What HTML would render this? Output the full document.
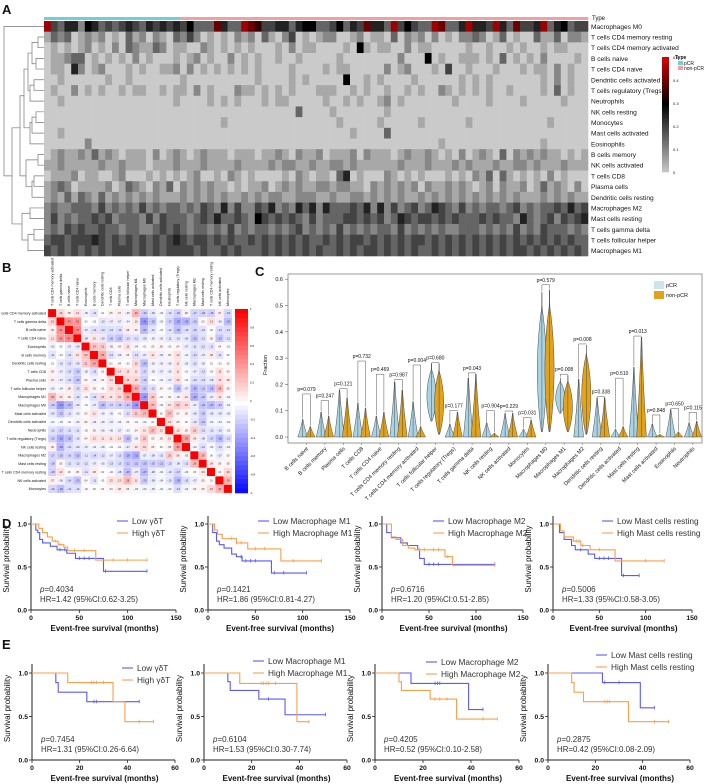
<!DOCTYPE html>
<html><head><meta charset="utf-8"><style>
html,body{margin:0;padding:0;background:#fff;}
svg{display:block;font-family:"Liberation Sans",Arial,sans-serif;}
</style></head><body>
<svg id="fig" width="708" height="784" viewBox="0 0 708 784" xmlns="http://www.w3.org/2000/svg"></svg>
<script>
// ---------- Panel A data ----------
const hmRows=["Macrophages M0","T cells CD4 memory resting","T cells CD4 memory activated","B cells naive","T cells CD4 naive","Dendritic cells activated","T cells regulatory (Tregs)","Neutrophils","NK cells resting","Monocytes","Mast cells activated","Eosinophils","B cells memory","NK cells activated","T cells CD8","Plasma cells","Dendritic cells resting","Macrophages M2","Mast cells resting","T cells gamma delta","T cells follicular helper","Macrophages M1"];
const hmValues=[
"94355265343454354545463338533987445535663346354855394643398335955495384459356344",
"13230121201031202103242010102120310240101220012011030212020102232013010031130221",
"01010120102032113201100210101010001020110000106101100201100000100100101001011000",
"01123301010102010001012010020101001001000001000000002000601001110103010102000010",
"01105201200010100112020101010101000010000101100000201200010400100010001011020100",
"00100000010010000000100000000001000010100000600101000010000001010100000001020100",
"01002010100101100101102010002110101010001110010100100101002101010100100001030100",
"00100000000000000001000010101000101100000100101001201000000010000100001000001000",
"00000000000000000000000000000000000003000010000000100000000000000000000000000000",
"00000000000000000000000000100000000000000001000001000001000000100000000000100000",
"00100000000000000000000000000000000000000000010000300000000000000000000000000000",
"00000020000000000000000000000000000000000000000000000000001000000000000001000000",
"01211213121011102012101211101110112102112011120211101211210102012103021212110101",
"11211111211211101112111211112111121221121122121111112111211121211121122121112111",
"01112011001200010101012001021010000102101103501000210101000101021303101010201000",
"12320111120132102130212121101011201212112212211021212120211212101202112013121020",
"12131321312121212111212121211212122112221121122121212112121212121212121112121211",
"23223332423232423233232432524224352325352533343525242342354324232332342323343534",
"24232334342333242433323435334326434343242333443434235434434343334343325323424345",
"23243433433233223434323323242323323234232324232323324232323223332323242324333232",
"34434445434343434345434434343343434343433434344343434344343434343434343434343433",
"43434343434443434344443433434333434343434334343443434343343434343434344343434343"];
const hmPcrCount=20;
const hmScaleTicks=[0,0.1,0.2,0.3,0.4,0.5];
// ---------- Panel B data ----------
const corrLabels=["T cells CD4 memory activated","T cells gamma delta","B cells naive","T cells CD4 naive","Eosinophils","B cells memory","Dendritic cells resting","T cells CD8","Plasma cells","T cells follicular helper","Macrophages M1","Macrophages M0","Mast cells activated","Dendritic cells activated","Neutrophils","T cells regulatory (Tregs)","NK cells resting","Macrophages M2","Mast cells resting","T cells CD4 memory resting","NK cells activated","Monocytes"];
const corrLower=[[],[0.16],[0.05,0.43],[0.12,0.42,0.47],[-0.05,0,-0.07,-0.08],[-0.11,-0.01,-0.12,0.1,0.23],[0.01,-0.1,-0.13,-0.09,0.21,0.34],[0.05,-0.07,-0.13,-0.2,-0.05,-0.13,0.02],[0.07,-0.07,-0.13,-0.23,0.04,-0.06,0.04,0.14],[-0.05,-0.04,0.08,-0.13,0.12,0.05,-0.01,0.13,0.16],[0.29,0.1,0.06,-0.12,-0.04,-0.13,0.15,0.11,0.16,0.34],[-0.19,-0.41,-0.27,-0.09,-0.01,-0.07,-0.26,-0.17,-0.19,-0.21,-0.4],[-0.09,-0.22,-0.11,-0.05,0.03,0.11,-0.05,-0.05,-0.01,-0.12,0.21,0.27],[-0.03,-0.03,-0.01,-0.05,0.05,-0.06,-0.05,-0.07,-0.04,0.04,-0.01,-0.03,0.01],[-0.12,-0.17,-0.12,-0.11,-0.02,0.05,-0.06,-0.06,-0.07,-0.03,0.04,0.1,0.27,0.13],[-0.18,-0.33,-0.25,-0.1,0.04,0.13,0.11,0.11,0.13,-0.25,-0.05,0.22,0.03,0.05,0.1],[0.06,-0.3,-0.13,-0.09,-0.07,-0.04,-0.05,-0.01,-0.01,-0.07,0.1,0.15,0.05,0,0.05,0.39],[-0.17,-0.2,-0.16,-0.23,-0.11,-0.14,-0.12,-0.07,-0.13,-0.28,-0.32,-0.07,-0.08,-0.1,0.2,0.08,-0.03],[-0.18,0.03,-0.12,-0.12,-0.12,-0.07,-0.05,-0.13,-0.13,-0.21,-0.22,-0.23,-0.2,-0.21,-0.13,-0.08,-0.12,0.28],[-0.18,0.13,0,0.05,-0.11,0.08,0.01,-0.02,-0.08,-0.25,-0.07,-0.27,-0.08,-0.04,-0.1,-0.17,-0.03,0,0.09],[0.07,-0.06,-0.14,-0.23,0.04,-0.11,-0.01,0.13,0.13,0.28,0.11,-0.2,-0.08,-0.04,-0.1,-0.28,-0.13,-0.07,0.05,0.01],[-0.16,-0.26,-0.13,-0.12,-0.02,0,0.02,0.03,0.08,0.05,-0.03,-0.04,-0.05,-0.02,-0.03,-0.13,-0.04,0.03,0.05,0.16,0.3]];
const corrTicks=[1,0.8,0.6,0.4,0.2,0,-0.2,-0.4,-0.6,-0.8,-1];
// ---------- Panel C data ----------
const vCats=["B cells naive","B cells memory","Plasma cells","T cells CD8","T cells CD4 naive","T cells CD4 memory resting","T cells CD4 memory activated","T cells follicular helper","T cells regulatory (Tregs)","T cells gamma delta","NK cells resting","NK cells activated","Monocytes","Macrophages M0","Macrophages M1","Macrophages M2","Dendritic cells resting","Dendritic cells activated","Mast cells resting","Mast cells activated","Eosinophils","Neutrophils"];
const vPcrMax=[0.067,0.095,0.18,0.13,0.08,0.21,0.135,0.28,0.05,0.225,0.055,0.09,0.03,0.55,0.225,0.22,0.15,0.03,0.265,0.05,0.105,0.055];
const vNonMax=[0.04,0.08,0.15,0.11,0.095,0.18,0.04,0.28,0.095,0.24,0.015,0.09,0.065,0.56,0.235,0.35,0.15,0.04,0.38,0.01,0.02,0.06];
const vPcrMin=[0,0,0,0,0,0,0,0.06,0,0,0,0,0,0.02,0.09,0,0,0,0,0,0,0];
const vNonMin=[0,0,0,0,0,0,0,0.01,0,0,0,0,0,0.02,0.02,0.01,0,0,0,0,0,0];
const vBracket=[0.16,0.135,0.18,0.285,0.235,0.215,0.27,0.28,0.097,0.24,0.097,0.095,0.07,0.575,0.235,0.35,0.15,0.22,0.38,0.08,0.105,0.09];
const vP=["p=0.079","p=0.247","p=0.121","p=0.732","p=0.469","p=0.987","p=0.004","p=0.680","p=0.177","p=0.043","p=0.904","p=0.229","p=0.031","p=0.579","p=0.008","p=0.008","p=0.338","p=0.510","p=0.013","p=0.848","p=0.650","p=0.115"];
const vTicks=[0,0.1,0.2,0.3,0.4,0.5,0.6];
// ---------- Panels D/E data ----------
const kmNames=[["Low γδT","High γδT"],["Low Macrophage M1","High Macrophage M1"],["Low Macrophage M2","High Macrophage M2"],["Low Mast cells resting","High Mast cells resting"]];
const dLowT=[[5,7,9,12,20,27,37,46,75],[5,9,12,17,25,30,36,67],[5,10,20,27,38,40,45],[7,12,20,24,38,45,74]];
const dLowS=[[0.93,0.9,0.82,0.78,0.74,0.7,0.66,0.6,0.45],[0.9,0.8,0.76,0.72,0.65,0.62,0.57,0.43],[0.9,0.84,0.78,0.75,0.7,0.6,0.53],[0.9,0.82,0.75,0.7,0.65,0.6,0.4]];
const dLowEnd=[120,104,120,93];
const dLowCens=[[30,35,50,55,60,77,120],[35,40,45,50,70,80,104],[50,55,60,120],[30,50,55,60,76,93]];
const dHighT=[[8,12,17,22,28,34,38,67],[7,10,15,30,42,77],[10,15,22,28,35,67,75],[8,12,22,30,40,67]];
const dHighS=[[0.95,0.9,0.85,0.8,0.76,0.73,0.69,0.58],[0.93,0.88,0.83,0.78,0.71,0.57],[0.85,0.82,0.75,0.72,0.7,0.62,0.52],[0.92,0.85,0.8,0.75,0.7,0.57]];
const dHighEnd=[120,120,120,120];
const dHighCens=[[25,30,45,55,85,100,120],[25,30,35,50,60,90,120],[40,45,55,60,70,120],[25,28,32,50,100,120]];
const dP=["0.4034","0.1421","0.6716","0.5006"];
const dHR=["HR=1.42 (95%CI:0.62-3.25)","HR=1.86 (95%CI:0.81-4.27)","HR=1.20 (95%CI:0.51-2.85)","HR=1.33 (95%CI:0.58-3.05)"];
const eLowT=[[10,11,23],[10,11,23,34],[15,39],[23,39]];
const eLowS=[[0.89,0.78,0.67],[0.9,0.8,0.7,0.52],[0.88,0.58],[0.89,0.6]];
const eLowEnd=[45,51,45,45];
const eLowCens=[[26,27,45],[27,51],[25,26,27,45],[24,30,45]];
const eHighT=[[15,34,39],[15,39],[10,11,23,34],[10,11,15,34]];
const eHighS=[[0.89,0.67,0.44],[0.88,0.44],[0.9,0.8,0.7,0.47],[0.89,0.78,0.67,0.44]];
const eHighEnd=[51,44,51,51];
const eHighCens=[[25,26,27,30,45,51],[24,25,26,27,30,44],[25,27,30,45,51],[24,25,26,45,51]];
const eP=["0.7454","0.6104","0.4205","0.2875"];
const eHR=["HR=1.31 (95%CI:0.26-6.64)","HR=1.53 (95%CI:0.30-7.74)","HR=0.52 (95%CI:0.10-2.58)","HR=0.42 (95%CI:0.08-2.09)"];

const NS="http://www.w3.org/2000/svg";
const svg=document.getElementById('fig');
function mk(tag,attrs,name,parent){
  const el=document.createElementNS(NS,tag);
  for(const k in attrs) el.setAttribute(k,attrs[k]);
  
  
  (parent||svg).appendChild(el);
  return el;
}
function txt(x,y,s,size,name,extra){
  const a=Object.assign({x:x,y:y,'font-size':size,fill:'#111'},extra||{});
  const t=mk('text',a,name);
  t.textContent=s;
  return t;
}
function lerp(a,b,t){return a+(b-a)*t;}

[["A",2,14],["B",2,272],["C",255,276],["D",2,528],["E",2,649]].forEach(p=>txt(p[1],p[2],p[0],13,'panel-label-'+p[0].toLowerCase(),{'font-weight':'bold'}));

// ---------- Panel A ----------
const hx0=44,hx1=588,hy0=21,hy1=256;
const nCols=hmValues[0].length;
const cw=(hx1-hx0)/nCols, rh=(hy1-hy0)/hmRows.length;
function hmColor(v){
  if(v<=0.3){const t=v/0.3;const g=Math.round(lerp(202,0,t));return `rgb(${g},${g},${g})`;}
  const t=Math.min(1,(v-0.3)/0.2);return `rgb(${Math.round(lerp(0,215,t))},0,0)`;
}
for(let c=0;c<nCols;c++){
  mk('rect',{x:hx0+c*cw,y:17,width:cw+0.3,height:3,fill:c<hmPcrCount?'#6cd0dc':'#f0a0a0'},'type-bar-cell');
}
txt(592,20,"Type",6,'type-annotation-label');
for(let r=0;r<hmRows.length;r++){
  const s=hmValues[r].padEnd(nCols,'0');
  for(let c=0;c<nCols;c++){
    const v=parseInt(s[c])*0.05;
    mk('rect',{x:hx0+c*cw,y:hy0+r*rh,width:cw+0.3,height:rh+0.3,fill:hmColor(v)},'heatmap-cell');
  }
  txt(591,hy0+(r+0.5)*rh+2.5,hmRows[r],6.6,'heatmap-row-label');
}
const dg=mk('g',{stroke:'#777','stroke-width':0.7,fill:'none'},'row-dendrogram');
function ry(i){return hy0+(i+0.5)*rh;}
function br(x,ya,yb,xa,xb){mk('path',{d:`M${xa},${ya}H${x}V${yb}H${xb}`},'dendrogram-branch',dg);}
br(38,ry(1),ry(2),44,44);br(36,ry(3),ry(4),44,44);br(32,(ry(1)+ry(2))/2,(ry(3)+ry(4))/2,38,36);
br(34,ry(5),ry(6),44,44);br(30,(ry(5)+ry(6))/2,ry(7),34,44);br(28,(ry(1)+ry(4))/2,(ry(5)+ry(7))/2,32,30);
br(36,ry(8),ry(9),44,44);br(32,(ry(8)+ry(9))/2,ry(10),36,44);br(30,(ry(8)+ry(10))/2,ry(11),32,44);
br(24,(ry(2)+ry(6))/2,(ry(8)+ry(11))/2,28,30);
br(38,ry(12),ry(13),44,44);br(34,ry(14),ry(15),44,44);br(32,(ry(14)+ry(15))/2,ry(16),34,44);br(26,(ry(12)+ry(13))/2,(ry(14)+ry(16))/2,38,32);
br(20,(ry(4)+ry(9))/2,(ry(12)+ry(16))/2,24,26);
br(30,ry(17),ry(18),44,44);br(34,ry(19),ry(20),44,44);br(28,(ry(19)+ry(20))/2,ry(21),34,44);br(22,(ry(17)+ry(18))/2,(ry(19)+ry(21))/2,30,28);
br(12,(ry(7)+ry(12))/2,(ry(17)+ry(20))/2,20,22);
br(4,ry(0),(ry(9)+ry(19))/2,44,12);
const cbx=662,cby0=57,cby1=172;
for(let i=0;i<50;i++){const v=0.5-i*0.01;mk('rect',{x:cbx,y:cby0+i*(cby1-cby0)/50,width:7,height:(cby1-cby0)/50+0.3,fill:hmColor(v)},'heatmap-colorbar-segment');}
hmScaleTicks.forEach(t=>txt(673,cby1-(t/0.5)*(cby1-cby0)+2,String(t),4,'heatmap-colorbar-tick'));
txt(675,59,"Type",5,'heatmap-legend-title',{'font-weight':'bold'});
mk('rect',{x:678,y:61,width:5,height:4,fill:'#6cd0dc'},'legend-swatch-pcr');txt(684,65,"pCR",5,'legend-label-pcr');
mk('rect',{x:678,y:66,width:5,height:4,fill:'#f0a0a0'},'legend-swatch-non-pcr');txt(684,70,"non-pCR",5,'legend-label-non-pcr');

// ---------- Panel B ----------
const bx0=48,by0=309,bs=(232-48)/22;
function corrColor(v){
  const t=Math.min(1,Math.abs(v));
  if(v>=0){return `rgb(255,${Math.round(255*(1-t))},${Math.round(255*(1-t))})`;}
  return `rgb(${Math.round(255*(1-t))},${Math.round(255*(1-t))},255)`;
}
function corr(i,j){if(i===j)return 1;return i>j?corrLower[i][j]:corrLower[j][i];}
for(let i=0;i<22;i++){
  for(let j=0;j<22;j++){
    const v=corr(i,j);
    mk('rect',{x:bx0+j*bs,y:by0+i*bs,width:bs,height:bs,fill:corrColor(v),stroke:'#fff','stroke-width':0.2},'corr-cell');
    txt(bx0+j*bs+bs/2,by0+i*bs+bs/2+1,(v===1?"1":v.toFixed(2).replace("0.",".")),2.6,'corr-cell-value',{'text-anchor':'middle',fill:'#333'});
  }
  txt(bx0-2,by0+i*bs+bs/2+1.3,corrLabels[i],3.6,'corr-row-label',{'text-anchor':'end'});
  const cx=bx0+i*bs+bs/2+1.3;
  txt(cx,by0-3,corrLabels[i],3.6,'corr-col-label',{transform:`rotate(-90 ${cx} ${by0-3})`});
}
for(let i=0;i<40;i++){const v=1-i*0.05;mk('rect',{x:235,y:by0+i*(22*bs)/40,width:13,height:22*bs/40+0.3,fill:corrColor(v)},'corr-colorbar-segment');}
corrTicks.forEach(t=>txt(250,by0+(1-t)/2*22*bs+1,String(t),3,'corr-colorbar-tick'));

// ---------- Panel C ----------
const cx0=288,cx1=702,cyTop=274,cyBot=443;
const cy0=437, cyPer=263;
function vy(v){return cy0-v*cyPer;}
const catStep=18.4, cat0=306.5;
function vx(i){return cat0+i*catStep;}
mk('rect',{x:cx0,y:cyTop,width:cx1-cx0,height:cyBot-cyTop,fill:'none',stroke:'#999','stroke-width':1},'violin-plot-frame');
vTicks.forEach(t=>{mk('line',{x1:cx0-3,x2:cx0,y1:vy(t),y2:vy(t),stroke:'#666','stroke-width':0.6},'y-tick');txt(cx0-5,vy(t)+2,t.toFixed(1),5.5,'y-tick-label',{'text-anchor':'end'});});
txt(267,365,"Fraction",5.5,'y-axis-title',{transform:'rotate(-90 267 365)','text-anchor':'middle'});
function violin(cx,mn,mx,fill,name){
  const n=24,W=4.6,pts=[],ptsL=[];
  const bulb=mn>0.005;
  for(let k=0;k<=n;k++){
    const t=k/n, v=lerp(mn,mx,t);
    let w=bulb?W*Math.pow(Math.sin(Math.PI*Math.min(1,t*1.1+0.02)),0.8):W*Math.pow(1-t,1.3)+0.3;
    pts.push([cx+w,vy(v)]);ptsL.push([cx-w,vy(v)]);
  }
  const all=pts.concat(ptsL.reverse());
  mk('path',{d:'M'+all.map(p=>p[0].toFixed(2)+','+p[1].toFixed(2)).join('L')+'Z',fill:fill,stroke:'#4a4a4a','stroke-width':0.5},name);
  mk('line',{x1:cx,x2:cx,y1:vy(mn),y2:vy(mx),stroke:'#333','stroke-width':0.4},name+'-whisker');
}
for(let i=0;i<vCats.length;i++){
  const xp=vx(i)-3.8, xn=vx(i)+3.8;
  violin(xp,vPcrMin[i],vPcrMax[i],'#a9d2e3','violin-pcr');
  violin(xn,vNonMin[i],vNonMax[i],'#e2a31c','violin-non-pcr');
  const yb=vy(vBracket[i])-1;
  mk('path',{d:`M${xp},${vy(vPcrMax[i])-1}V${yb}H${xn}V${vy(vNonMax[i])-1}`,fill:'none',stroke:'#555','stroke-width':0.5},'p-value-bracket');
  txt(vx(i),yb-3,vP[i],5,'p-value-label',{'text-anchor':'middle'});
  mk('line',{x1:vx(i),x2:vx(i),y1:cyBot,y2:cyBot+2,stroke:'#666','stroke-width':0.5},'x-tick');
  txt(vx(i)+2,cyBot+6,vCats[i],5.5,'x-tick-label',{'text-anchor':'end',transform:`rotate(-45 ${vx(i)+2} ${cyBot+6})`});
}
mk('rect',{x:654,y:281,width:10,height:8,fill:'#cde4ee'},'legend-swatch-pcr');txt(666,287,"pCR",5.5,'legend-label-pcr');
mk('rect',{x:654,y:291,width:10,height:8,fill:'#e2a31c'},'legend-swatch-non-pcr');txt(666,297,"non-pCR",5.5,'legend-label-non-pcr');

// ---------- Panels D & E ----------
const BLUE='#5a5af5',ORANGE='#f5a04a';
function survAt(T,S,t){let s=1;for(let k=0;k<T.length;k++){if(T[k]<=t)s=S[k];}return s;}
function kmPlot(o){
  const X=v=>o.x0+(v/o.xmax)*(o.x1-o.x0), Y=s=>o.y0-s*(o.y0-o.y1);
  mk('path',{d:`M${o.x0},${o.yTop}V${o.y0}H${o.x1}`,fill:'none',stroke:'#222','stroke-width':1},'km-axes');
  o.xticks.forEach(t=>{mk('line',{x1:X(t),x2:X(t),y1:o.y0,y2:o.y0+3,stroke:'#222','stroke-width':0.8},'km-x-tick');txt(X(t),o.y0+10,String(t),6.8,'km-x-tick-label',{'text-anchor':'middle','font-weight':'bold'});});
  [0,0.5,1].forEach(s=>{mk('line',{x1:o.x0-3,x2:o.x0,y1:Y(s),y2:Y(s),stroke:'#222','stroke-width':0.8},'km-y-tick');txt(o.x0-4,Y(s)+2.5,s.toFixed(1),6.8,'km-y-tick-label',{'text-anchor':'end','font-weight':'bold'});});
  txt((o.x0+o.x1)/2+1,o.y0+21,"Event-free survival (months)",8,'km-x-axis-title',{'text-anchor':'middle','font-weight':'bold'});
  const yl=(o.y0+o.y1)/2-8;
  txt(o.x0-22,yl,"Survival probability",8,'km-y-axis-title',{'text-anchor':'middle',transform:`rotate(-90 ${o.x0-22} ${yl})`});
  [[o.lowT,o.lowS,o.lowEnd,o.lowC,BLUE,'km-curve-low'],[o.highT,o.highS,o.highEnd,o.highC,ORANGE,'km-curve-high']].forEach(c=>{
    const T=c[0],S=c[1];let d=`M${X(0)},${Y(1)}`;
    for(let k=0;k<T.length;k++){d+=`H${X(T[k]).toFixed(2)}V${Y(S[k]).toFixed(2)}`;}
    d+=`H${X(c[2]).toFixed(2)}`;
    mk('path',{d:d,fill:'none',stroke:c[4],'stroke-width':1.1},c[5]);
    c[3].forEach(t=>{const yy=Y(survAt(T,S,t));mk('line',{x1:X(t),x2:X(t),y1:yy-2,y2:yy+1.5,stroke:c[4],'stroke-width':0.8},'censor-mark');});
  });
  [[o.legLowY,BLUE,o.names[0],'legend-entry-low'],[o.legHighY,ORANGE,o.names[1],'legend-entry-high']].forEach(l=>{
    mk('line',{x1:o.legX,x2:o.legX+11,y1:l[0]-3,y2:l[0]-3,stroke:l[1],'stroke-width':1.1},l[3]+'-line');
    txt(o.legX+15,l[0],l[2],8.3,l[3],{fill:'#333'});
  });
  const pt=txt(o.x0+9,o.pY,"",8,'p-value-text',{fill:'#333'});
  const ps=document.createElementNS(NS,'tspan');ps.setAttribute('font-style','italic');ps.textContent='p';pt.appendChild(ps);
  pt.appendChild(document.createTextNode('='+o.p));
  txt(o.x0+9,o.pY+10,o.hr,7.9,'hazard-ratio-text',{fill:'#333'});
}
const dX0=[31,208,382,553],dX1=[176,350,523,692],dLeg=[117,258,433,602];
for(let i=0;i<4;i++)kmPlot({x0:dX0[i],x1:dX1[i],xmax:150,xticks:[0,50,100,150],y0:610,y1:524,yTop:516,lowT:dLowT[i],lowS:dLowS[i],lowEnd:dLowEnd[i],lowC:dLowCens[i],highT:dHighT[i],highS:dHighS[i],highEnd:dHighEnd[i],highC:dHighCens[i],names:kmNames[i],legX:dLeg[i],legLowY:524,legHighY:536,p:dP[i],hr:dHR[i],pY:592});
const eX0=[32,204,375,548],eX1=[175,347,519,690],eLeg=[122,253,426,596],eLegY=[671,664,665,658];
for(let i=0;i<4;i++)kmPlot({x0:eX0[i],x1:eX1[i],xmax:60,xticks:[0,20,40,60],y0:760,y1:673,yTop:664,lowT:eLowT[i],lowS:eLowS[i],lowEnd:eLowEnd[i],lowC:eLowCens[i],highT:eHighT[i],highS:eHighS[i],highEnd:eHighEnd[i],highC:eHighCens[i],names:kmNames[i],legX:eLeg[i],legLowY:eLegY[i],legHighY:eLegY[i]+12,p:eP[i],hr:eHR[i],pY:742});
</script>
</body></html>
